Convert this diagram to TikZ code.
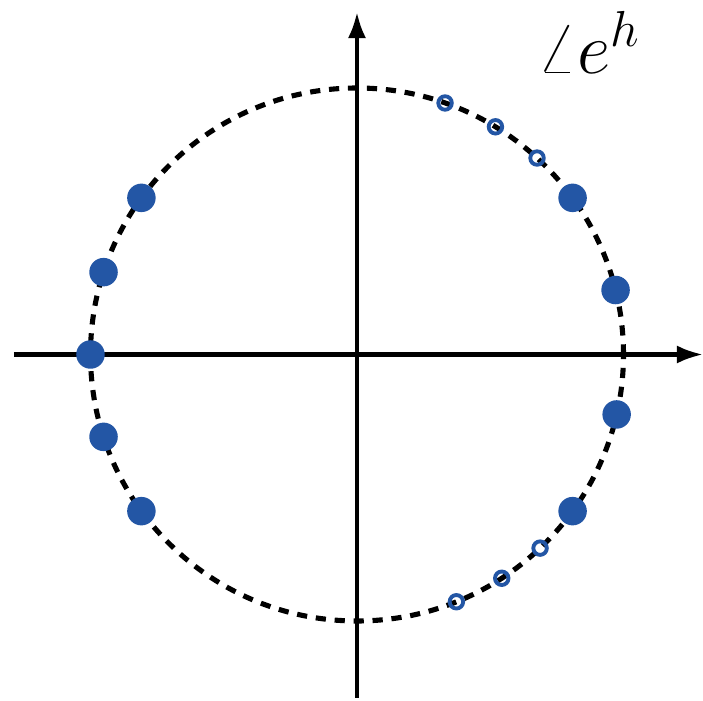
\documentclass[tikz,border=0pt]{standalone}
\usepackage{tikz}
\usetikzlibrary{arrows.meta}
\definecolor{DotBlue}{HTML}{2356A5}

\begin{document}
\begin{tikzpicture}[
  axis/.style={-{Latex[length=0.26cm,width=0.18cm]},draw=black,line width=1.15pt},
  unitcirc/.style={draw=black,line width=1.45pt,dash pattern=on 2.9pt off 2.5pt},
  fulldot/.style={circle,fill=DotBlue,inner sep=0pt,minimum size=0.285cm},
  opendot/.style={circle,draw=DotBlue,line width=1.1pt,inner sep=0pt,minimum size=0.135cm}
]
\useasboundingbox (-3.57,-3.465) rectangle (3.46,3.545);
\coordinate (xleft) at (-3.43,0);
\coordinate (xright) at (3.46,0);
\coordinate (ybot) at (0,-3.435);
\coordinate (ytop) at (0,3.425);
\draw[axis] (xleft) -- (xright);
\draw[axis] (ybot) -- (ytop);
\draw[unitcirc] (0,0) circle (2.665);
% poles
\foreach \a in {144,162,180,198,216,36,14,-13,-36}
  \node[fulldot] (p\a) at (\a:2.665) {};
% zeros
\foreach \a in {70.7,58.7,47.5,-46.6,-57.1,-68.1}
  \node[opendot] (z\a) at (\a:2.665) {};
\node[anchor=base west,inner sep=0pt,font=\fontsize{22}{26}\selectfont] (lbl) at (1.8,2.815) {$\angle e^h$};
\end{tikzpicture}
\end{document}
